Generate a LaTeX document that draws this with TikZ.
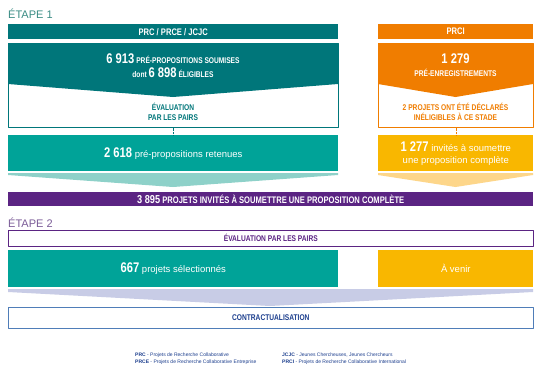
\documentclass[tikz,border=0pt]{standalone}
\usepackage{fontspec}
\setmainfont{Liberation Sans}
\newfontfamily\condfont[FakeStretch=0.8]{Liberation Sans}
\definecolor{tealdark}{HTML}{00767A}
\definecolor{tealmid}{HTML}{00A398}
\definecolor{teallight}{HTML}{8ED1C9}
\definecolor{tealtxt}{HTML}{3A8C84}
\definecolor{orng}{HTML}{F07D00}
\definecolor{yell}{HTML}{F9B700}
\definecolor{yelllight}{HTML}{FDD68A}
\definecolor{purp}{HTML}{5B2483}
\definecolor{purptxt}{HTML}{7B5C98}
\definecolor{lavd}{HTML}{C8CCE6}
\definecolor{bluebd}{HTML}{4F7DB8}
\definecolor{bluet}{HTML}{1D3F8E}
\newcommand\bignum[1]{{\condfont\bfseries\fontsize{14}{14}\selectfont #1}}
\begin{document}
\begin{tikzpicture}[x=1pt, y=-1pt, line join=round,
	bar/.style={anchor=north west, inner sep=0, text=white, font=\condfont\bfseries\fontsize{9.5}{11}\selectfont},
	panel/.style={anchor=north west, inner sep=0, fill=white, line width=0.6pt},
	caps/.style={align=center, inner sep=0, font=\condfont\bfseries\fontsize{8.3}{10}\selectfont},
	plain/.style={align=center, inner sep=0, text=white, font=\fontsize{9.5}{11}\selectfont}]
	\useasboundingbox[fill=white] (0,0) rectangle (540,370);
	% Étape 1
	\node[anchor=west, inner sep=0, text=tealtxt, font=\fontsize{11}{12}\selectfont] (etapeA) at (8,14) {ÉTAPE 1};
	% En-têtes
	\node[bar, fill=tealdark, minimum width=330, minimum height=15] (prc) at (8,24) {PRC / PRCE / JCJC};
	\node[bar, fill=orng, minimum width=155, minimum height=15] (prci) at (378,24) {PRCI};
	% Cadres de l'évaluation
	\node[panel, draw=tealdark, minimum width=330, minimum height=84] (evalA) at (8,43) {};
	\node[panel, draw=orng, minimum width=155, minimum height=84] (evalB) at (378,43) {};
	% Flèches pleines du haut
	\fill[tealdark] (8,43) -- (338,43) -- (338,84) -- (173,97) -- (8,84) -- cycle;
	\fill[orng] (378,43) -- (533,43) -- (533,84) -- (455.5,97) -- (378,84) -- cycle;
	\node[caps, text=white] (soum) at (173,65.5) {\bignum{6 913} PRÉ-PROPOSITIONS SOUMISES\\[4pt] dont \bignum{6 898} ÉLIGIBLES};
	\node[caps, text=white] (preins) at (455.5,65) {\bignum{1 279}\\[3pt] PRÉ-ENREGISTREMENTS};
	\node[caps, text=tealdark] (evalAtxt) at (173,112) {ÉVALUATION\\ PAR LES PAIRS};
	\node[caps, text=orng] (evalBtxt) at (455.5,112) {2 PROJETS ONT ÉTÉ DÉCLARÉS\\ INÉLIGIBLES À CE STADE};
	% Résultats de l'étape 1
	\node[panel, fill=tealmid, minimum width=330, minimum height=36, plain] (retA) at (8,135) {\bignum{2 618} pré-propositions retenues};
	\node[panel, fill=yell, minimum width=155, minimum height=36, plain] (retB) at (378,135) {\bignum{1 277} invités à soumettre\\[1pt] une proposition complète};
	\draw[densely dotted, tealdark] (evalA) -- (retA);
	\draw[densely dotted, orng] (evalB) -- (retB);
	% Flèches claires
	\fill[teallight] (8,173) -- (338,173) -- (338,175) -- (173,187) -- (8,175) -- cycle;
	\fill[yelllight] (378,173) -- (533,173) -- (533,175) -- (455.5,187) -- (378,175) -- cycle;
	% Total
	\node[bar, fill=purp, minimum width=525, minimum height=14] (total) at (8,192) {{\fontsize{11.5}{11}\selectfont 3 895} PROJETS INVITÉS À SOUMETTRE UNE PROPOSITION COMPLÈTE};
	% Étape 2
	\node[anchor=west, inner sep=0, text=purptxt, font=\fontsize{11}{12}\selectfont] (etapeB) at (8,223) {ÉTAPE 2};
	\node[panel, draw=purp, minimum width=525, minimum height=16, caps, text=purp] (evalC) at (8,230) {ÉVALUATION PAR LES PAIRS};
	\node[panel, fill=tealmid, minimum width=330, minimum height=37, plain] (select) at (8,250) {\bignum{667} projets sélectionnés};
	\node[panel, fill=yell, minimum width=155, minimum height=37, plain] (venir) at (378,250) {À venir};
	\fill[lavd] (8,289) -- (533,289) -- (533,292) -- (270,306) -- (8,292) -- cycle;
	\node[panel, draw=bluebd, minimum width=525, minimum height=21, caps, text=bluet] (contrat) at (8,307) {CONTRACTUALISATION};
	% Légende
	\begin{scope}[every node/.style={anchor=west, inner sep=0, text=bluet, font=\fontsize{5}{6}\selectfont}]
		\node (legA) at (135,355) {\textbf{PRC} - Projets de Recherche Collaborative};
		\node (legB) at (135,362) {\textbf{PRCE} - Projets de Recherche Collaborative Entreprise};
		\node (legC) at (282,355) {\textbf{JCJC} - Jeunes Chercheuses, Jeunes Chercheurs};
		\node (legD) at (282,362) {\textbf{PRCI} - Projets de Recherche Collaborative International};
	\end{scope}
\end{tikzpicture}
\end{document}
